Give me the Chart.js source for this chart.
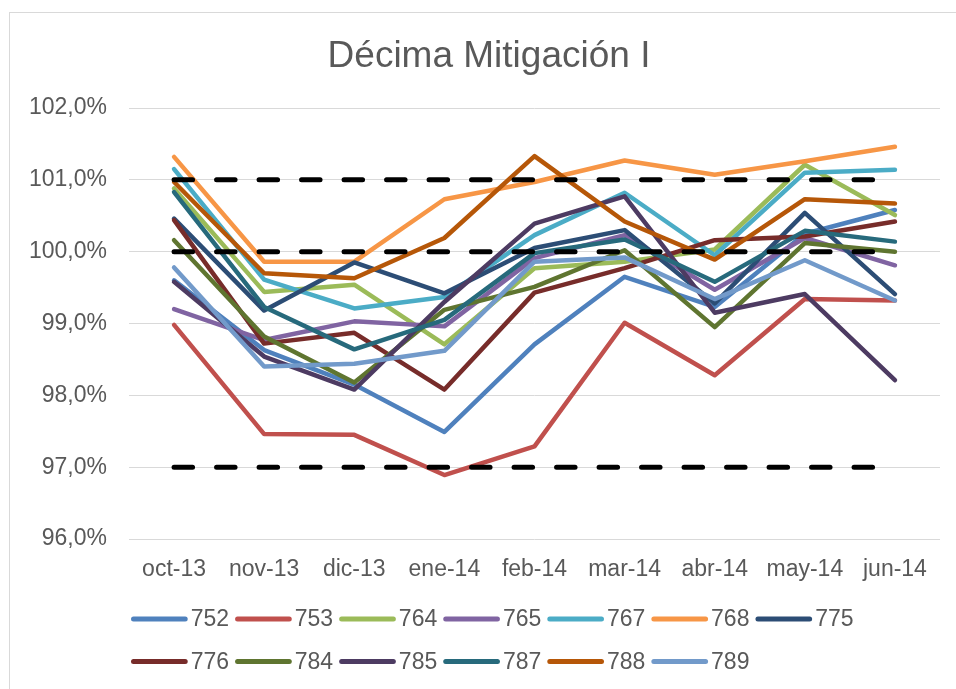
<!DOCTYPE html>
<html>
<head>
<meta charset="utf-8">
<script src="https://cdn.jsdelivr.net/npm/chart.js@4/dist/chart.umd.min.js"></script>
<style>
  html, body { margin: 0; padding: 0; background: #fff; }
  #wrap { position: relative; width: 956px; height: 689px; overflow: hidden; }
  #frame { position: absolute; left: 9px; top: 12px; width: 1000px; height: 1000px;
           border-left: 1px solid #d9d9d9; border-top: 1px solid #d9d9d9; }
  canvas { position: absolute; left: 0; top: 0; }
</style>
</head>
<body>
<div id="wrap">
  <div id="frame"></div>
  <canvas id="chart" width="956" height="689"></canvas>
</div>
<script>
const FONT = '"Liberation Sans", Arial, sans-serif';
const TEXT_COLOR = '#595959';

// categories
const months = ['oct-13', 'nov-13', 'dic-13', 'ene-14', 'feb-14', 'mar-14', 'abr-14', 'may-14', 'jun-14'];

// series values (%)
const s752 = [99.60, 98.63, 98.15, 97.49, 98.71, 99.65, 99.23, 100.25, 100.58];
const s753 = [98.98, 97.46, 97.45, 96.89, 97.29, 99.01, 98.28, 99.34, 99.32];
const s764 = [100.88, 99.44, 99.54, 98.71, 99.77, 99.86, 100.03, 101.21, 100.51];
const s765 = [99.20, 98.77, 99.03, 98.96, 99.91, 100.23, 99.47, 100.19, 99.81];
const s767 = [101.15, 99.61, 99.21, 99.37, 100.23, 100.82, 99.95, 101.10, 101.14];
const s768 = [101.32, 99.86, 99.86, 100.73, 100.97, 101.27, 101.07, 101.26, 101.46];
const s775 = [100.46, 99.18, 99.85, 99.42, 100.05, 100.30, 99.28, 100.54, 99.41];
const s776 = [100.44, 98.72, 98.87, 98.08, 99.43, 99.77, 100.16, 100.21, 100.42];
const s784 = [100.16, 98.82, 98.18, 99.19, 99.51, 100.02, 98.95, 100.12, 100.00];
const s785 = [99.58, 98.54, 98.08, 99.30, 100.39, 100.77, 99.15, 99.41, 98.21];
const s787 = [100.83, 99.23, 98.64, 99.05, 99.98, 100.17, 99.58, 100.29, 100.14];
const s788 = [100.97, 99.70, 99.63, 100.19, 101.33, 100.42, 99.89, 100.73, 100.67];
const s789 = [99.78, 98.40, 98.44, 98.62, 99.86, 99.92, 99.34, 99.88, 99.32];

// dashed reference lines
const limitHigh = [101, 101, 101, 101, 101, 101, 101, 101, 101];
const target = [100, 100, 100, 100, 100, 100, 100, 100, 100];
const limitLow = [97, 97, 97, 97, 97, 97, 97, 97, 97];

// y axis ticks
const yTicks = [96, 97, 98, 99, 100, 101, 102];

const seriesNames = ['752', '753', '764', '765', '767', '768', '775', '776', '784', '785', '787', '788', '789'];
const seriesData = [s752, s753, s764, s765, s767, s768, s775, s776, s784, s785, s787, s788, s789];
const seriesColors = ['#4F81BD', '#C0504D', '#9BBB59', '#8064A2', '#4BACC6', '#F79646', '#2C4D75',
                      '#772C2A', '#5F7530', '#4D3B62', '#276A7C', '#B65708', '#729ACA'];

const datasets = seriesNames.map((name, i) => ({
    label: name,
    data: seriesData[i],
    borderColor: seriesColors[i],
    backgroundColor: seriesColors[i],
    borderWidth: 4.5,
    borderCapStyle: 'round',
    borderJoinStyle: 'round',
    pointRadius: 0,
    tension: 0,
    order: 30 - i   // later series drawn on top, like Excel
}));

[limitHigh, target, limitLow].forEach((vals, i) => {
    datasets.push({
        label: 'ref' + i,
        data: vals,
        borderColor: '#000',
        borderWidth: 5,
        borderDash: [18.5, 24],
        borderCapStyle: 'round',
        pointRadius: 0,
        tension: 0,
        order: i
    });
});

// legend drawn in two left-aligned rows
const rowLegend = {
    id: 'rowLegend',
    afterLayout(chart) {
        // title is centred on the whole chart frame, not the plot
        chart.titleBlock.left += 19;
        chart.titleBlock.right += 19;
    },
    afterDraw(chart) {
        const ctx = chart.ctx;
        ctx.save();
        ctx.font = '23px ' + FONT;
        ctx.textBaseline = 'middle';
        ctx.textAlign = 'left';
        ctx.lineCap = 'round';
        ctx.lineWidth = 5;
        let x = 133.5, y = 619, count = 0;
        chart.data.datasets.forEach(ds => {
            if (ds.borderDash) return;
            if (count === 7) { x = 133.5; y = 661.5; }
            ctx.strokeStyle = ds.borderColor;
            ctx.beginPath();
            ctx.moveTo(x, y);
            ctx.lineTo(x + 51.7, y);
            ctx.stroke();
            ctx.fillStyle = TEXT_COLOR;
            const tx = x + 57.2;
            ctx.fillText(ds.label, tx, y + 1);
            x = tx + ctx.measureText(ds.label).width + 8.5;
            count++;
        });
        ctx.restore();
    }
};

new Chart(document.getElementById('chart'), {
    type: 'line',
    data: { labels: months, datasets: datasets },
    options: {
        responsive: false,
        animation: false,
        devicePixelRatio: 1,
        layout: { padding: { left: 0, right: 16, top: 0, bottom: 100 } },
        plugins: {
            legend: { display: false },
            tooltip: { enabled: false },
            title: {
                display: true,
                text: 'Décima Mitigación I',
                color: TEXT_COLOR,
                font: { family: FONT, size: 37, weight: 'normal' },
                padding: { top: 35, bottom: 28.6 }
            }
        },
        scales: {
            x: {
                offset: true,
                grid: { display: false, drawTicks: false },
                border: { display: false },
                ticks: {
                    color: TEXT_COLOR,
                    font: { family: FONT, size: 23 },
                    padding: 17,
                    maxRotation: 0,
                    autoSkip: false
                },
                afterFit(axis) { axis.height = 50; }
            },
            y: {
                min: yTicks[0],
                max: yTicks[yTicks.length - 1],
                afterBuildTicks(axis) { axis.ticks = yTicks.map(v => ({ value: v })); },
                grid: { color: '#d9d9d9', lineWidth: 1, drawTicks: false },
                border: { display: false },
                ticks: {
                    color: TEXT_COLOR,
                    font: { family: FONT, size: 23 },
                    padding: 22,
                    callback: v => v.toFixed(1).replace('.', ',') + '%'
                },
                afterFit(axis) { axis.width = 129; }
            }
        }
    },
    plugins: [rowLegend]
});
</script>
</body>
</html>
